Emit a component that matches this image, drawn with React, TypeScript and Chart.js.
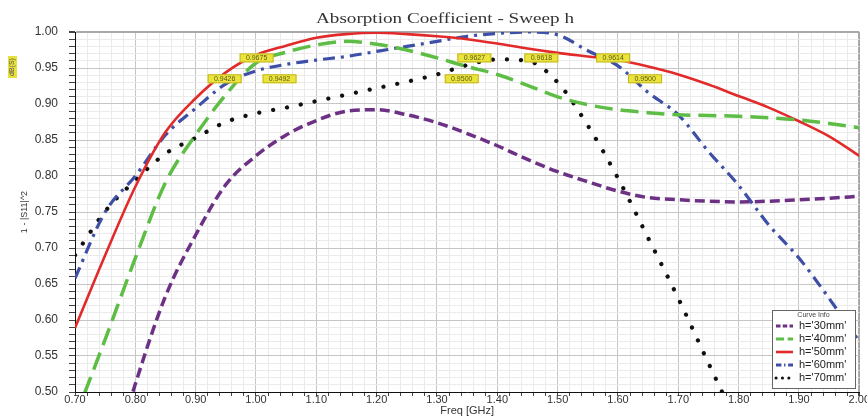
import React, { useEffect, useRef } from 'react';
import { Chart, registerables } from 'chart.js';

Chart.register(...registerables);

const TITLE = 'Absorption Coefficient - Sweep h';
const X_TITLE = 'Freq [GHz]';
const Y_TITLE = '1 - |S11|^2';
const LEGEND_TITLE = 'Curve Info';

const freqs = [0.70, 0.75, 0.80, 0.85, 0.90, 0.95, 1.00, 1.05, 1.10, 1.15, 1.20, 1.25, 1.30, 1.35, 1.40, 1.45, 1.50, 1.55, 1.60, 1.65, 1.70, 1.75, 1.80, 1.85, 1.90, 1.95, 2.00];

const h30 = [0.22, 0.37, 0.511, 0.633, 0.718, 0.788, 0.828, 0.857, 0.877, 0.890, 0.892, 0.885, 0.874, 0.859, 0.842, 0.823, 0.806, 0.792, 0.779, 0.770, 0.767, 0.765, 0.764, 0.765, 0.767, 0.769, 0.772];
const h40 = [0.464, 0.573, 0.686, 0.791, 0.857, 0.913, 0.957, 0.972, 0.982, 0.987, 0.983, 0.975, 0.964, 0.952, 0.941, 0.926, 0.910, 0.899, 0.892, 0.888, 0.885, 0.884, 0.883, 0.881, 0.878, 0.873, 0.867];
const h50 = [0.589, 0.690, 0.785, 0.861, 0.908, 0.944, 0.968, 0.981, 0.992, 0.997, 0.999, 0.997, 0.994, 0.990, 0.984, 0.977, 0.971, 0.966, 0.961, 0.952, 0.941, 0.927, 0.911, 0.895, 0.876, 0.855, 0.828];
const h60 = [0.658, 0.750, 0.800, 0.857, 0.894, 0.928, 0.946, 0.955, 0.961, 0.966, 0.973, 0.980, 0.987, 0.994, 0.998, 1.000, 0.996, 0.974, 0.953, 0.916, 0.885, 0.834, 0.787, 0.732, 0.686, 0.630, 0.570];
const h70 = [0.690, 0.751, 0.794, 0.831, 0.853, 0.875, 0.887, 0.895, 0.904, 0.913, 0.922, 0.931, 0.941, 0.954, 0.962, 0.960, 0.930, 0.870, 0.797, 0.714, 0.630, 0.540, 0.452, null, null, null, null];

const seriesLabels = ["h='30mm'", "h='40mm'", "h='50mm'", "h='60mm'", "h='70mm'"];

const markerFreq = [0.948, 1.001, 1.039, 1.341, 1.362, 1.473, 1.592, 1.645];
const markerValue = [0.935, 0.964, 0.935, 0.935, 0.964, 0.964, 0.964, 0.935];
const markerText = ['0.9426', '0.9675', '0.9492', '0.9500', '0.9627', '0.9618', '0.9614', '0.9500'];

const SANS = "'Liberation Sans', Arial, sans-serif";
const SERIF = "'Liberation Serif', 'Times New Roman', serif";

const isMajorX = (v: number) => Math.abs(v * 10 - Math.round(v * 10)) < 1e-6;
const isMajorY = (v: number) => Math.abs(v * 20 - Math.round(v * 20)) < 1e-6;

const pts = (vals: (number | null)[]) => freqs.map((f, i) => ({ x: f, y: vals[i] }));

const decorPlugin = {
  id: 'decor',
  beforeDraw(chart: any) {
    const ctx = chart.ctx;
    ctx.save();
    ctx.fillStyle = '#ffffff';
    ctx.fillRect(0, 0, chart.width, chart.height);
    ctx.restore();
  },
  afterDraw(chart: any) {
    const ctx = chart.ctx;
    const xs = chart.scales.x;
    const ys = chart.scales.y;
    // Title (stretched horizontally like the reference)
    ctx.save();
    ctx.font = `15px ${SERIF}`;
    ctx.fillStyle = '#333333';
    ctx.textAlign = 'center';
    ctx.textBaseline = 'alphabetic';
    const tw = ctx.measureText(TITLE).width;
    const sx = 258 / tw;
    ctx.translate(445, 23);
    ctx.scale(sx, 1);
    ctx.fillText(TITLE, 0, 0);
    ctx.restore();

    // Small yellow badge at top left
    ctx.save();
    ctx.fillStyle = '#e8e03c';
    ctx.fillRect(8, 56, 9, 22);
    ctx.translate(12.5, 67);
    ctx.rotate(-Math.PI / 2);
    ctx.font = `7px ${SANS}`;
    ctx.fillStyle = '#555';
    ctx.textAlign = 'center';
    ctx.textBaseline = 'middle';
    ctx.fillText('dB(S)', 0, 0);
    ctx.restore();

    // Markers
    ctx.save();
    for (let i = 0; i < markerFreq.length; i++) {
      const px = xs.getPixelForValue(markerFreq[i]);
      const py = ys.getPixelForValue(markerValue[i]);
      const w = 34, h = 9;
      ctx.fillStyle = '#ebe43a';
      ctx.fillRect(px - w / 2, py - h / 2, w, h);
      ctx.strokeStyle = '#b8ab20';
      ctx.lineWidth = 0.8;
      ctx.strokeRect(px - w / 2 + 0.5, py - h / 2 + 0.5, w - 1, h - 1);
      ctx.font = `7px ${SANS}`;
      ctx.fillStyle = '#5a5a20';
      ctx.textAlign = 'center';
      ctx.textBaseline = 'middle';
      ctx.fillText(markerText[i], px, py + 0.5);
    }
    ctx.restore();

    // Legend box
    ctx.save();
    const bx = 772, by = 310, bw = 83, bh = 78;
    ctx.fillStyle = '#ffffff';
    ctx.fillRect(bx, by, bw, bh);
    ctx.strokeStyle = '#666666';
    ctx.lineWidth = 1;
    ctx.strokeRect(bx + 0.5, by + 0.5, bw, bh);
    ctx.font = `7px ${SANS}`;
    ctx.fillStyle = '#444';
    ctx.textAlign = 'center';
    ctx.textBaseline = 'middle';
    ctx.fillText(LEGEND_TITLE, bx + bw / 2, by + 5);
    chart.data.datasets.forEach((ds: any, i: number) => {
      const ry = 326 + i * 13;
      ctx.save();
      ctx.strokeStyle = ds.borderColor;
      ctx.lineWidth = Math.min(ds.borderWidth, 3);
      ctx.lineCap = ds.borderCapStyle || 'butt';
      ctx.setLineDash(ds.borderDash ? ds.borderDash.map((d: number) => Math.max(d * 0.45, 0.1)) : []);
      ctx.beginPath();
      ctx.moveTo(776, ry);
      ctx.lineTo(793, ry);
      ctx.stroke();
      ctx.restore();
      ctx.font = `11px ${SANS}`;
      ctx.fillStyle = '#222';
      ctx.textAlign = 'left';
      ctx.textBaseline = 'middle';
      ctx.fillText(ds.label, 799, ry);
    });
    ctx.restore();
  },
};

export default function App() {
  const ref = useRef<HTMLCanvasElement | null>(null);
  useEffect(() => {
    if (!ref.current) return;
    const chart = new Chart(ref.current, {
      type: 'line',
      data: {
        datasets: [
          { label: seriesLabels[0], data: pts(h30), borderColor: '#6c3184', borderWidth: 3.5, borderDash: [10, 5] },
          { label: seriesLabels[1], data: pts(h40), borderColor: '#5dbd45', borderWidth: 3.5, borderDash: [18, 8] },
          { label: seriesLabels[2], data: pts(h50), borderColor: '#e22a2a', borderWidth: 2.6 },
          { label: seriesLabels[3], data: pts(h60), borderColor: '#3d4fa6', borderWidth: 3.2, borderDash: [12, 6, 3, 6] },
          { label: seriesLabels[4], data: pts(h70), borderColor: '#111111', borderWidth: 4.2, borderDash: [0.1, 14], borderCapStyle: 'round' },
        ] as any,
      },
      options: {
        animation: false,
        responsive: false,
        maintainAspectRatio: false,
        layout: { padding: { top: 32, right: 7, left: 0, bottom: 0 } },
        elements: { point: { radius: 0 }, line: { cubicInterpolationMode: 'monotone', fill: false } },
        plugins: { legend: { display: false }, title: { display: false }, tooltip: { enabled: false } },
        scales: {
          x: {
            type: 'linear',
            min: 0.7,
            max: 2.0,
            afterFit: (s: any) => { s.height = 26; },
            ticks: {
              stepSize: 0.02,
              autoSkip: false,
              maxRotation: 0,
              padding: -3,
              color: '#333',
              font: { size: 11, family: SANS },
              callback: (v: any) => (isMajorX(Number(v)) ? Number(v).toFixed(2) : ''),
            },
            grid: {
              color: (c: any) => (Math.abs(c.tick.value - 2.0) < 1e-6 ? '#a8a8a8' : isMajorX(c.tick.value) ? '#c6c6c6' : '#ebebeb'),
              lineWidth: (c: any) => (Math.abs(c.tick.value - 2.0) < 1e-6 ? 2 : 1),
              tickLength: 4,
              tickColor: '#444',
            },
            border: { display: true, color: '#111', width: 1 },
            title: { display: true, text: X_TITLE, color: '#333', font: { size: 11, family: SANS }, padding: { top: 0, bottom: 0 } },
          },
          y: {
            type: 'linear',
            min: 0.5,
            max: 1.0,
            afterFit: (s: any) => { s.width = 75; },
            ticks: {
              stepSize: 0.01,
              autoSkip: false,
              padding: 11,
              color: '#333',
              font: { size: 12, family: SANS },
              callback: (v: any) => (isMajorY(Number(v)) ? Number(v).toFixed(2) : ''),
            },
            grid: {
              color: (c: any) => (Math.abs(c.tick.value - 1.0) < 1e-6 ? '#a8a8a8' : isMajorY(c.tick.value) ? '#c6c6c6' : '#ebebeb'),
              lineWidth: (c: any) => (Math.abs(c.tick.value - 1.0) < 1e-6 ? 2 : 1),
              tickLength: 6,
              tickColor: '#444',
            },
            border: { display: true, color: '#111', width: 1 },
            title: { display: true, text: Y_TITLE, color: '#333', font: { size: 9, family: SANS }, padding: { top: 19, bottom: 0 } },
          },
        },
      } as any,
      plugins: [decorPlugin],
    });
    return () => chart.destroy();
  }, []);
  return (
    <div style={{ position: 'fixed', left: 0, top: 0, width: 867, height: 418, background: '#fff' }}>
      <canvas ref={ref} width={867} height={418} style={{ display: 'block', width: 867, height: 418 }} />
    </div>
  );
}
